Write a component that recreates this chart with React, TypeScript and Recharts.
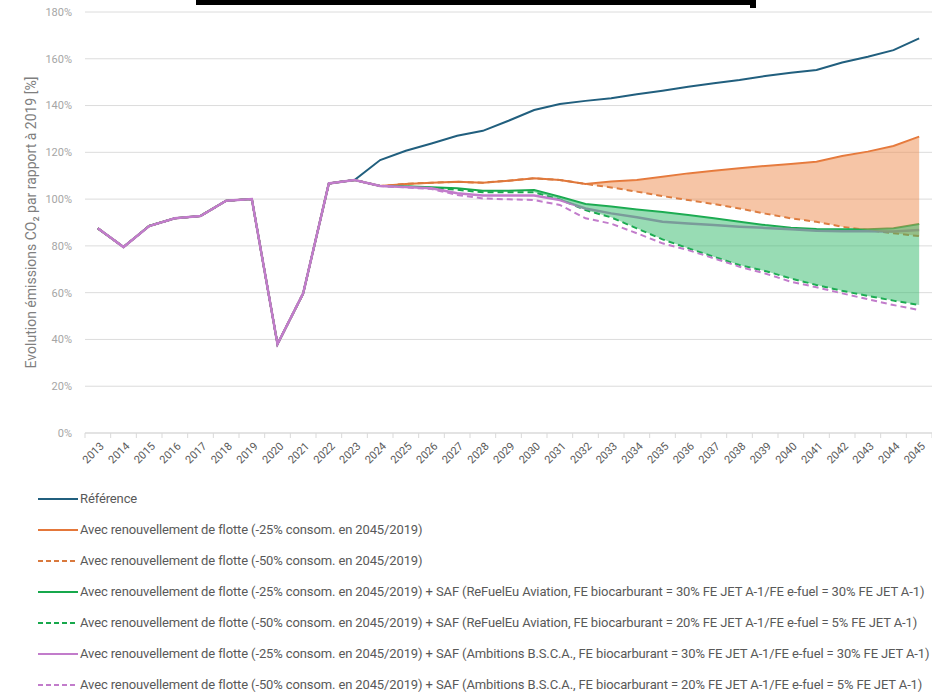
import { ComposedChart, Line, Area, XAxis, YAxis, CartesianGrid, Text } from 'recharts';

const years = [
  2013, 2014, 2015, 2016, 2017, 2018, 2019, 2020, 2021, 2022, 2023,
  2024, 2025, 2026, 2027, 2028, 2029, 2030, 2031, 2032, 2033, 2034,
  2035, 2036, 2037, 2038, 2039, 2040, 2041, 2042, 2043, 2044, 2045,
];

// 2013-2023, shared by every scenario
const history = [87.5, 79.5, 88.5, 91.8, 92.8, 99.3, 100, 38, 59.7, 106.7, 108.2];

// 2024-2045 projections
const reference = [
  116.7, 120.7, 123.8, 127.1, 129.2, 133.5, 138.1, 140.7, 142, 143.1, 144.8,
  146.3, 148, 149.5, 150.9, 152.6, 154, 155.2, 158.4, 160.9, 163.7, 168.7,
];
const fleet25 = [
  105.6, 106.5, 107, 107.4, 107, 107.9, 108.9, 108.2, 106.5, 107.5, 108.2,
  109.6, 111, 112.1, 113.2, 114.2, 115, 116, 118.4, 120.3, 122.7, 126.7,
];
const fleet50 = [
  105.6, 106.5, 107, 107.4, 107, 107.9, 108.9, 108.2, 106.5, 105, 103.2,
  101.3, 99.6, 97.9, 96, 93.8, 91.8, 90.3, 88.2, 86.8, 85.4, 84.2,
];
const refuel25 = [
  105.6, 105.5, 105.1, 104.6, 103.6, 103.6, 103.9, 101, 97.9, 96.8, 95.6,
  94.5, 93.2, 91.8, 90.3, 88.9, 87.8, 87.2, 87.1, 87.1, 87.5, 89.4,
];
const refuel50 = [
  105.6, 105.3, 104.8, 104, 102.9, 102.9, 102.9, 99.9, 95.3, 92.2, 87.5,
  82.8, 79, 75.4, 71.8, 69.3, 66.1, 63.3, 60.8, 58.6, 56.6, 54.7,
];
const bsca25 = [
  105.6, 105.2, 104.6, 102.5, 101.5, 101.5, 101.5, 99.6, 96, 93.9, 92.2,
  90.3, 89.6, 88.9, 88.2, 87.7, 87.1, 86.5, 86.3, 86.3, 86.1, 86.8,
];
const bsca50 = [
  105.6, 105, 104.3, 101.8, 100.3, 99.9, 99.6, 97.5, 91.8, 89.5, 85.4,
  81.1, 78.2, 74.7, 71.1, 68.2, 64.7, 62.3, 59.7, 57.2, 54.7, 52.6,
];

const yTicks = [0, 20, 40, 60, 80, 100, 120, 140, 160, 180];

const series = [
  { key: 'reference', values: reference, color: '#215f7e', dashed: false, name: 'Référence' },
  { key: 'fleet25', values: fleet25, color: '#e4773a', dashed: false, name: 'Avec renouvellement de flotte (-25% consom. en 2045/2019)' },
  { key: 'fleet50', values: fleet50, color: '#d9793d', dashed: true, name: 'Avec renouvellement de flotte (-50% consom. en 2045/2019)' },
  { key: 'refuel25', values: refuel25, color: '#17a84c', dashed: false, name: 'Avec renouvellement de flotte (-25% consom. en 2045/2019) + SAF (ReFuelEu Aviation, FE biocarburant = 30% FE JET A-1/FE e-fuel = 30% FE JET A-1)' },
  { key: 'refuel50', values: refuel50, color: '#17a84c', dashed: true, name: 'Avec renouvellement de flotte (-50% consom. en 2045/2019) + SAF (ReFuelEu Aviation, FE biocarburant = 20% FE JET A-1/FE e-fuel = 5% FE JET A-1)' },
  { key: 'bsca25', values: bsca25, color: '#c27ccb', dashed: false, name: 'Avec renouvellement de flotte (-25% consom. en 2045/2019) + SAF (Ambitions B.S.C.A., FE biocarburant = 30% FE JET A-1/FE e-fuel = 30% FE JET A-1)' },
  { key: 'bsca50', values: bsca50, color: '#c27ccb', dashed: true, name: 'Avec renouvellement de flotte (-50% consom. en 2045/2019) + SAF (Ambitions B.S.C.A., FE biocarburant = 20% FE JET A-1/FE e-fuel = 5% FE JET A-1)' },
];

const nHist = history.length;

const data = years.map((year, i) => {
  const row: any = { year: String(year) };
  series.forEach(s => {
    row[s.key] = i < nHist ? history[i] : s.values[i - nHist];
  });
  // shaded ranges between the -25% and -50% variants
  row.orangeBand = year >= 2032 ? [row.fleet50, row.fleet25] : null;
  row.greenBand = year >= 2030 ? [row.refuel50, row.refuel25] : null;
  return row;
});

const CHART_W = 932;
const CHART_H = 480;
const Y_AXIS_W = 85;
const BAND = (CHART_W - Y_AXIS_W) / years.length;

const YearTick = (props: any) => {
  const { x, y, payload, index } = props;
  const axisY = y - 8;
  return (
    <g>
      <line x1={x - BAND / 2} x2={x - BAND / 2} y1={axisY} y2={axisY + 5} stroke="#d9d9d9" />
      {index === years.length - 1 && (
        <line x1={x + BAND / 2} x2={x + BAND / 2} y1={axisY} y2={axisY + 5} stroke="#d9d9d9" />
      )}
      <Text
        x={x + 4}
        y={axisY + 11}
        angle={-45}
        textAnchor="end"
        verticalAnchor="middle"
        fontSize={11}
        fill="#595959"
      >
        {payload.value}
      </Text>
    </g>
  );
};

function LegendRow({ color, dashed, name }: { color: string; dashed: boolean; name: string }) {
  return (
    <div style={{ display: 'flex', alignItems: 'center', height: 31 }}>
      <svg width={40} height={6} style={{ marginLeft: 38 }}>
        <line x1={0} x2={40} y1={3} y2={3} stroke={color} strokeWidth={2} strokeDasharray={dashed ? '5 3' : undefined} />
      </svg>
      <span style={{ marginLeft: 2, whiteSpace: 'nowrap' }}>{name}</span>
    </div>
  );
}

export default function App() {
  return (
    <div style={{ position: 'absolute', left: 0, top: 0, width: 932, height: 693, background: '#fff', fontFamily: 'Roboto, sans-serif', overflow: 'hidden' }}>
      <div style={{ position: 'absolute', left: 196, top: 0, width: 559, height: 5, background: '#000' }} />
      <div style={{ position: 'absolute', left: 750, top: 0, width: 6, height: 8, background: '#000' }} />
      <ComposedChart
        width={CHART_W}
        height={CHART_H}
        data={data}
        margin={{ top: 12, right: 0, left: 0, bottom: 0 }}
      >
        <CartesianGrid vertical={false} stroke="#dcdcdc" />
        <XAxis
          dataKey="year"
          height={47}
          interval={0}
          padding={{ left: BAND / 2, right: BAND / 2 }}
          axisLine={{ stroke: '#d9d9d9' }}
          tickLine={false}
          angle={-45}
          tick={<YearTick />}
        />
        <YAxis
          width={Y_AXIS_W}
          domain={[0, 180]}
          ticks={yTicks}
          interval={0}
          axisLine={false}
          tickLine={false}
          tickMargin={7}
          tick={{ fontSize: 11, fill: '#a6a6a6' }}
          tickFormatter={(v: number) => `${v}%`}
          label={{
            value: 'Evolution émissions CO₂ par rapport à 2019 [%]',
            angle: -90,
            position: 'insideLeft',
            offset: 31,
            style: { textAnchor: 'middle', fontSize: 14, fill: '#7f7f7f' },
          }}
        />
        {series.map(s => (
          <Line
            key={s.key}
            type="linear"
            dataKey={s.key}
            stroke={s.color}
            strokeWidth={s.key === 'bsca25' ? 2.5 : 2}
            strokeDasharray={s.dashed ? '6 4' : undefined}
            dot={false}
            activeDot={false}
            isAnimationActive={false}
          />
        ))}
        <Area
          type="linear"
          dataKey="orangeBand"
          stroke="none"
          fill="#ed8b4d"
          fillOpacity={0.5}
          isAnimationActive={false}
          zIndex={500}
        />
        <Area
          type="linear"
          dataKey="greenBand"
          stroke="none"
          fill="#31b96a"
          fillOpacity={0.5}
          isAnimationActive={false}
          zIndex={500}
        />
      </ComposedChart>
      <div style={{ position: 'absolute', left: 0, top: 483, fontSize: 13, color: '#595959', letterSpacing: -0.12 }}>
        {series.map(s => (
          <LegendRow key={s.key} color={s.color} dashed={s.dashed} name={s.name} />
        ))}
      </div>
    </div>
  );
}
